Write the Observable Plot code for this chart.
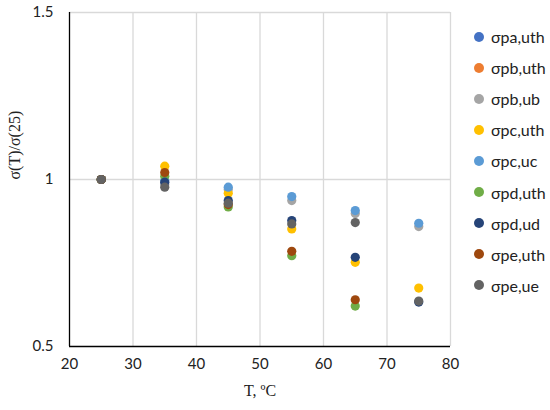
<!DOCTYPE html>
<html>
<head>
<meta charset="utf-8">
<script src="https://cdn.jsdelivr.net/npm/d3@7"></script>
<script src="https://cdn.jsdelivr.net/npm/@observablehq/plot@0.6"></script>
<style>
  html, body { margin: 0; padding: 0; background: #fff; }
  #wrap { position: relative; width: 550px; height: 410px; }
  #legend { position: absolute; left: 474px; top: 21px; font-family: Lato, "Liberation Sans", sans-serif; font-size: 16px; color: #222; }
  #legend .item { display: flex; align-items: center; height: 31.1px; }
  #legend .sw { width: 10px; height: 10px; border-radius: 50%; margin-right: 7px; }
</style>
</head>
<body>
<div id="wrap"></div>
<script>
const temps = [25, 35, 45, 55, 65, 75];
const seriesNames = ["σpa,uth", "σpb,uth", "σpb,ub", "σpc,uth", "σpc,uc", "σpd,uth", "σpd,ud", "σpe,uth", "σpe,ue"];
const seriesColors = ["#4472C4", "#ED7D31", "#A5A5A5", "#FFC000", "#5B9BD5", "#70AD47", "#264478", "#9E480E", "#636363"];
// values per temperature (null = not plotted)
const pa_uth = [1, null, null, null, null, null];
const pb_uth = [1, null, null, null, null, null];
const pb_ub  = [1, 0.985, 0.970, 0.937, 0.898, 0.859];
const pc_uth = [1, 1.040, 0.959, 0.852, 0.752, 0.675];
const pc_uc  = [1, 0.997, 0.977, 0.949, 0.907, 0.869];
const pd_uth = [1, 1.010, 0.918, 0.772, 0.621, null];
const pd_ud  = [1, 0.992, 0.937, 0.877, 0.767, 0.633];
const pe_uth = [1, 1.021, 0.925, 0.785, 0.640, null];
const pe_ue  = [1, 0.977, 0.929, 0.867, 0.871, 0.636];
const xTicks = [20, 30, 40, 50, 60, 70, 80];
const yTicks = [0.5, 1, 1.5];
const yLabel = "σ(T)/σ(25)";
const xLabel = "T, ºC";

const seriesValues = [pa_uth, pb_uth, pb_ub, pc_uth, pc_uc, pd_uth, pd_ud, pe_uth, pe_ue];
const data = [];
seriesValues.forEach((vals, i) => {
  vals.forEach((v, j) => { if (v != null) data.push({series: seriesNames[i], T: temps[j], r: v}); });
});

const chart = Plot.plot({
  width: 550,
  height: 410,
  marginLeft: 69,
  marginRight: 100,
  marginTop: 12,
  marginBottom: 64,
  style: {fontFamily: "Lato, 'Liberation Sans', sans-serif", fontSize: "15px", color: "#222", background: "#fff"},
  x: {domain: [20, 80]},
  y: {domain: [0.5, 1.5]},
  color: {domain: seriesNames, range: seriesColors},
  marks: [
    Plot.gridX(xTicks.filter(d => d > 20), {stroke: "#d9d9d9", strokeOpacity: 1, strokeWidth: 1.3}),
    Plot.gridY(yTicks.filter(d => d > 0.5), {stroke: "#d9d9d9", strokeOpacity: 1, strokeWidth: 1.3}),
    Plot.ruleX([20], {stroke: "#000", strokeWidth: 1.3}),
    Plot.ruleY([0.5], {stroke: "#000", strokeWidth: 1.3}),
    Plot.axisX(xTicks, {tickSize: 0, tickPadding: 12, label: null, fontSize: 15}),
    Plot.axisY(yTicks, {tickSize: 0, tickPadding: 16, label: null, fontSize: 15, tickFormat: d => String(d)}),
    Plot.dot(data, {x: "T", y: "r", fill: "series", r: 4.6}),
    Plot.text([xLabel], {frameAnchor: "bottom", dy: 49, fontFamily: "'Liberation Serif', 'DejaVu Serif', serif", fontSize: 16}),
    Plot.text([yLabel], {frameAnchor: "left", rotate: -90, dx: -55, fontFamily: "'Liberation Serif', 'DejaVu Serif', serif", fontSize: 16})
  ]
});
document.getElementById("wrap").appendChild(chart);

const legend = document.createElement("div");
legend.id = "legend";
seriesNames.forEach((name, i) => {
  const item = document.createElement("div");
  item.className = "item";
  const sw = document.createElement("span");
  sw.className = "sw";
  sw.style.background = seriesColors[i];
  const t = document.createElement("span");
  t.textContent = name;
  item.appendChild(sw); item.appendChild(t);
  legend.appendChild(item);
});
document.getElementById("wrap").appendChild(legend);
</script>
</body>
</html>
